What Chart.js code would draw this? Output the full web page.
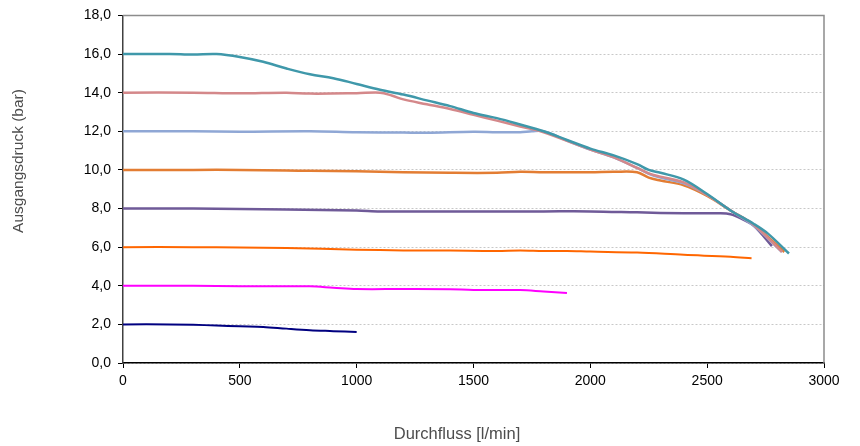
<!DOCTYPE html>
<html>
<head>
<meta charset="utf-8">
<script src="https://cdn.jsdelivr.net/npm/chart.js@4/dist/chart.umd.min.js"></script>
<style>
  html, body { margin: 0; padding: 0; background: #fff; }
  #wrap { width: 860px; height: 446px; }
</style>
</head>
<body>
<div id="wrap"><canvas id="pumpChart" width="860" height="446"></canvas></div>
<script>
// Durchfluss (l/min) und Ausgangsdruck (bar) je Kennlinie
const flow16 = [0, 200, 300, 400, 500, 600, 700, 800, 900, 1000, 1100, 1200, 1300, 1400, 1500, 1600, 1700, 1800, 1900, 2000, 2100, 2200, 2250, 2300, 2400, 2500, 2600, 2700, 2760, 2850];
const press16 = [16.0, 16.0, 15.97, 16.0, 15.85, 15.6, 15.25, 14.95, 14.75, 14.45, 14.15, 13.9, 13.6, 13.3, 12.95, 12.68, 12.35, 12.0, 11.55, 11.1, 10.75, 10.3, 10.0, 9.85, 9.5, 8.75, 7.9, 7.2, 6.7, 5.67];

const flow14 = [0, 300, 500, 700, 800, 1000, 1100, 1150, 1200, 1300, 1400, 1500, 1600, 1700, 1800, 1900, 2000, 2100, 2200, 2250, 2300, 2400, 2500, 2600, 2700, 2820];
const press14 = [14.0, 14.0, 13.97, 14.0, 13.95, 13.97, 14.0, 13.85, 13.65, 13.4, 13.15, 12.85, 12.55, 12.25, 11.95, 11.5, 11.05, 10.65, 10.1, 9.82, 9.65, 9.35, 8.7, 7.9, 7.15, 5.75];

const flow12 = [0, 300, 500, 800, 1000, 1200, 1300, 1500, 1600, 1700, 1750, 1800, 1900, 2000, 2100, 2200, 2250, 2300, 2400, 2500, 2600, 2700, 2820];
const press12 = [12.0, 12.0, 11.98, 12.0, 11.95, 11.93, 11.92, 11.97, 11.95, 11.95, 12.0, 12.0, 11.52, 11.05, 10.65, 10.1, 9.8, 9.6, 9.3, 8.7, 7.9, 7.1, 5.75];

const flow10 = [0, 300, 500, 700, 800, 1000, 1200, 1400, 1600, 1700, 1800, 2000, 2100, 2200, 2250, 2300, 2400, 2500, 2600, 2700, 2830];
const press10 = [10.0, 10.0, 10.0, 9.97, 9.95, 9.93, 9.88, 9.85, 9.85, 9.9, 9.88, 9.88, 9.9, 9.88, 9.6, 9.45, 9.2, 8.65, 7.9, 7.15, 5.75];

const flow8 = [0, 300, 500, 700, 1000, 1100, 1300, 1500, 1800, 2000, 2200, 2400, 2550, 2600, 2650, 2700, 2777];
const press8 = [8.0, 8.0, 7.97, 7.95, 7.9, 7.85, 7.85, 7.85, 7.85, 7.85, 7.8, 7.75, 7.75, 7.7, 7.45, 7.1, 6.05];

const flow6 = [0, 300, 500, 700, 1000, 1200, 1400, 1600, 1700, 1800, 1900, 2000, 2200, 2400, 2600, 2690];
const press6 = [6.0, 6.0, 5.98, 5.95, 5.87, 5.83, 5.82, 5.8, 5.83, 5.8, 5.8, 5.77, 5.72, 5.6, 5.5, 5.42];

const flow4 = [0, 300, 500, 800, 900, 1000, 1200, 1400, 1500, 1700, 1800, 1900];
const press4 = [4.0, 4.0, 3.97, 3.97, 3.9, 3.83, 3.83, 3.82, 3.78, 3.78, 3.7, 3.62];

const flow2 = [0, 200, 300, 400, 500, 600, 700, 800, 900, 1000];
const press2 = [2.0, 2.0, 1.98, 1.94, 1.9, 1.87, 1.78, 1.7, 1.65, 1.6];

const xTicks = [0, 500, 1000, 1500, 2000, 2500, 3000];
const yTicks = [0, 2, 4, 6, 8, 10, 12, 14, 16, 18];
const xTitle = 'Durchfluss [l/min]';
const yTitle = 'Ausgangsdruck (bar)';

function toPoints(xs, ys) {
  return xs.map((x, i) => ({ x: x, y: ys[i] }));
}

function series(xs, ys, color, width) {
  return {
    data: toPoints(xs, ys),
    borderColor: color,
    backgroundColor: color,
    borderWidth: width,
    pointRadius: 0,
    tension: 0.35,
    fill: false
  };
}

// top and right frame lines of the plot area, plus both axis titles
// (in the original they sit off-centre, so Chart.js' own titles don't fit)
const frameLines = {
  id: 'frameLines',
  afterDraw(chart) {
    const a = chart.chartArea;
    const c = chart.ctx;
    c.save();
    c.strokeStyle = '#8c8c8c';
    c.lineWidth = 1.5;
    c.beginPath();
    c.moveTo(a.left, a.top);
    c.lineTo(a.right, a.top);
    c.lineTo(a.right, a.bottom);
    c.stroke();

    c.fillStyle = '#4d4d4d';
    c.textAlign = 'center';
    c.textBaseline = 'middle';
    c.font = '16.5px "Liberation Sans"';
    c.fillText(xTitle, 457, 434);

    c.translate(19, 161);
    c.rotate(-Math.PI / 2);
    c.font = '15.5px "Liberation Sans"';
    c.fillText(yTitle, 0, 0);
    c.restore();
  }
};

const ctx = document.getElementById('pumpChart').getContext('2d');
const pumpChart = new Chart(ctx, {
  type: 'line',
  data: {
    datasets: [
      series(flow16, press16, '#3f98aa', 2.5),
      series(flow14, press14, '#d4888a', 2.5),
      series(flow12, press12, '#8fa7d5', 2.5),
      series(flow10, press10, '#e37d33', 2.5),
      series(flow8, press8, '#6f5a98', 2.5),
      series(flow6, press6, '#ff6600', 2),
      series(flow4, press4, '#ff00ff', 2),
      series(flow2, press2, '#000080', 2)
    ]
  },
  options: {
    responsive: false,
    animation: false,
    layout: { padding: { left: 0, right: 36, top: 14, bottom: 0 } },
    plugins: {
      legend: { display: false },
      tooltip: { enabled: false }
    },
    scales: {
      x: {
        type: 'linear',
        min: 0,
        max: 3000,
        afterBuildTicks: (scale) => { scale.ticks = xTicks.map(v => ({ value: v })); },
        afterFit: (scale) => { scale.height = 83; },
        ticks: {
          color: '#000',
          font: { family: 'Liberation Sans', size: 14 },
          padding: 5,
          callback: (v) => String(v)
        },
        grid: {
          drawOnChartArea: false,
          drawTicks: true,
          tickLength: 5,
          tickColor: '#000',
          tickWidth: 1
        },
        border: { color: '#000', width: 1.5 },
        title: { display: false }
      },
      y: {
        min: 0,
        max: 18,
        afterBuildTicks: (scale) => { scale.ticks = yTicks.map(v => ({ value: v })); },
        afterFit: (scale) => { scale.width = 123; },
        ticks: {
          color: '#000',
          font: { family: 'Liberation Sans', size: 14 },
          padding: 7,
          callback: (v) => v.toFixed(1).replace('.', ',')
        },
        grid: {
          color: '#c8c8c8',
          lineWidth: 1,
          drawTicks: true,
          tickLength: 5,
          tickColor: '#000',
          tickWidth: 1,
          tickBorderDash: []
        },
        border: { color: '#404040', width: 1.5, dash: [2, 2] },
        title: { display: false }
      }
    }
  },
  plugins: [frameLines]
});
</script>
</body>
</html>
